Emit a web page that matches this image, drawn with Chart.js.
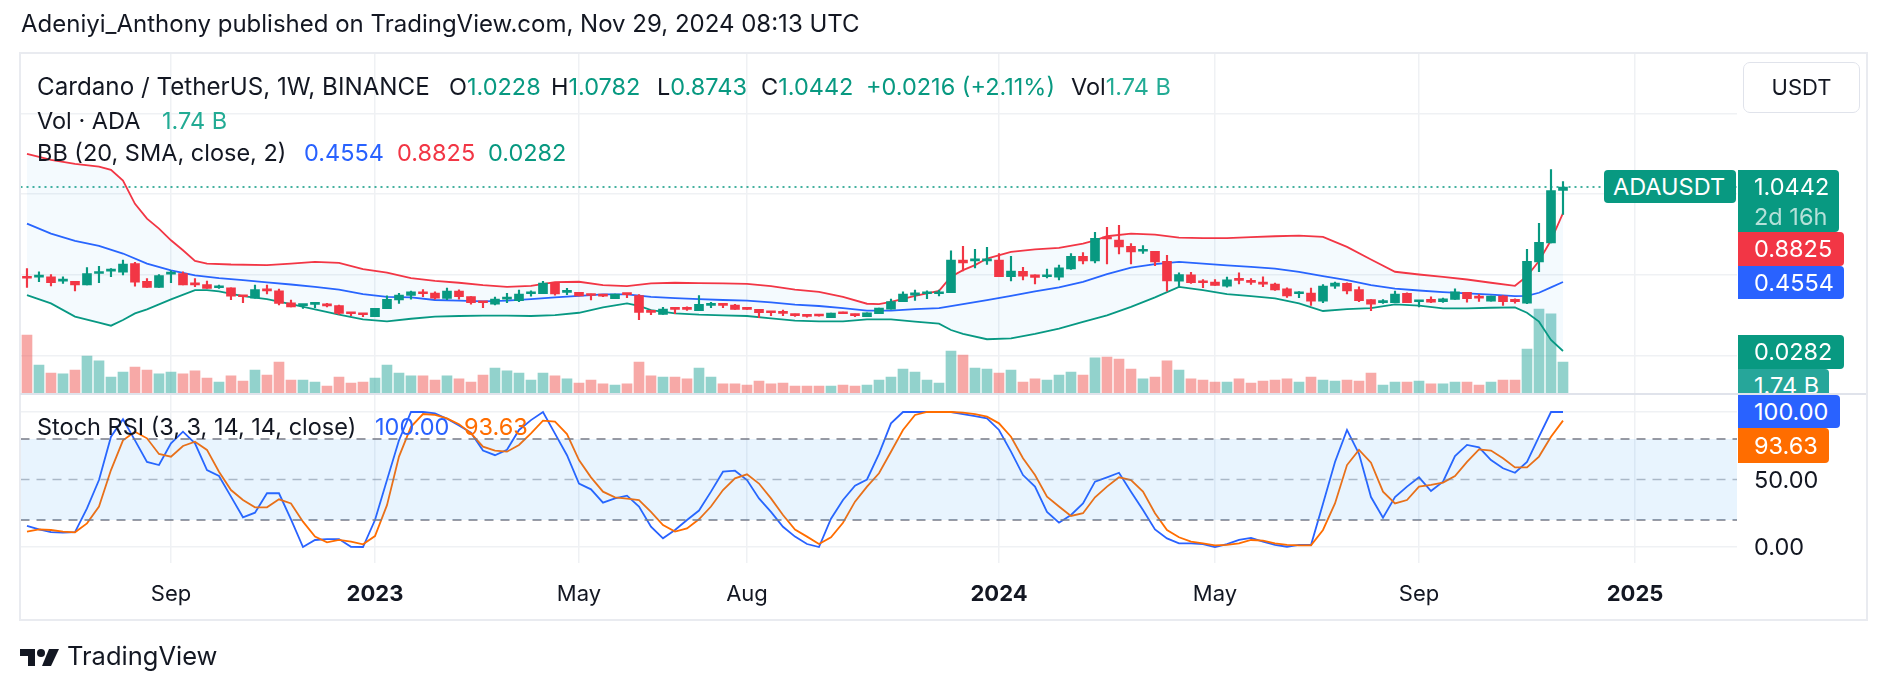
<!DOCTYPE html>
<html>
<head>
<meta charset="utf-8">
<script src="https://cdn.jsdelivr.net/npm/chart.js@4.4.1/dist/chart.umd.min.js"></script>
<style>
body { margin: 0; background: #fff; width: 1888px; height: 690px; overflow: hidden; position: relative;
       font-family: Inter, "Noto Sans", sans-serif; color: #131722; }
canvas { position: absolute; left: 0; top: 0; }
.abs { position: absolute; white-space: nowrap; line-height: 26px; }
.lg { font-size: 23.5px; }
.g { color: #089981; }
.v { color: #22ab94; }
.b { color: #2962ff; }
.r { color: #f23645; }
.o { color: #ff6d00; }
.tag { position: absolute; color: #fff; font-size: 23.5px; box-sizing: border-box; padding-left: 16px; white-space: nowrap; }
.axis { position: absolute; font-size: 23.5px; left: 1754px; line-height: 26px; }
</style>
</head>
<body>
<canvas id="main" width="1888" height="690"></canvas>
<canvas id="stoch" width="1888" height="690"></canvas>

<div class="abs" style="left:21px;top:11px;font-size:24px">Adeniyi_Anthony published on TradingView.com, Nov 29, 2024 08:13 UTC</div>

<!-- frame + pane separator -->
<div style="position:absolute;left:19px;top:52px;width:1849px;height:569px;border:2px solid #e9ebf0;box-sizing:border-box"></div>
<div style="position:absolute;left:20px;top:393px;width:1846px;height:2px;background:#e0e3eb"></div>

<!-- legend -->
<div class="abs" style="left:37px;top:74px;font-size:24.2px">Cardano / TetherUS, 1W, BINANCE</div>
<div class="abs lg" style="left:449px;top:74px">O<span class="g">1.0228</span></div>
<div class="abs lg" style="left:551px;top:74px">H<span class="g">1.0782</span></div>
<div class="abs lg" style="left:657px;top:74px">L<span class="g">0.8743</span></div>
<div class="abs lg" style="left:761px;top:74px">C<span class="g">1.0442</span></div>
<div class="abs lg g" style="left:866px;top:74px">+0.0216 (+2.11%)</div>
<div class="abs lg" style="left:1071px;top:74px">Vol<span class="v">1.74 B</span></div>
<div class="abs lg" style="left:37px;top:108px">Vol · ADA</div>
<div class="abs lg v" style="left:162px;top:108px">1.74 B</div>
<div class="abs lg" style="left:37px;top:140px">BB (20, SMA, close, 2)</div>
<div class="abs lg b" style="left:304px;top:140px">0.4554</div>
<div class="abs lg r" style="left:397px;top:140px">0.8825</div>
<div class="abs lg g" style="left:488px;top:140px">0.0282</div>
<div class="abs lg" style="left:37px;top:414px">Stoch RSI (3, 3, 14, 14, close)</div>
<div class="abs lg b" style="left:375px;top:414px">100.00</div>
<div class="abs lg o" style="left:464px;top:414px">93.63</div>

<div style="position:absolute;left:1743px;top:62px;width:117px;height:51px;border:1px solid #e0e3eb;border-radius:7px;box-sizing:border-box;font-size:22px;line-height:49px;text-align:center">USDT</div>

<!-- price scale labels -->
<div class="tag" style="left:1604px;top:170px;width:132px;height:33px;line-height:33px;background:#089981;border-radius:4px;padding-left:9px">ADAUSDT</div>
<div class="tag" style="left:1738px;top:170px;width:101px;height:62px;background:#089981;border-radius:0 4px 4px 0;line-height:30px;padding-top:2px">1.0442<br><span style="color:rgba(255,255,255,0.7)">2d 16h</span></div>
<div class="tag" style="left:1738px;top:232px;width:106px;height:34px;line-height:34px;background:#f23645;border-radius:0 4px 4px 0">0.8825</div>
<div class="tag" style="left:1738px;top:266px;width:106px;height:33px;line-height:33px;background:#2962ff;border-radius:0 4px 4px 0">0.4554</div>
<div class="tag" style="left:1738px;top:335px;width:106px;height:34px;line-height:34px;background:#089981;border-radius:0 4px 4px 0">0.0282</div>
<div style="position:absolute;left:1738px;top:369px;width:120px;height:24px;overflow:hidden">
  <div class="tag" style="left:0;top:0;width:91px;height:34px;line-height:34px;background:#26a69a;border-radius:0 4px 4px 0">1.74 B</div>
</div>
<div class="tag" style="left:1738px;top:395px;width:102px;height:33px;line-height:33px;background:#2962ff;border-radius:0 4px 4px 0">100.00</div>
<div class="tag" style="left:1738px;top:428px;width:91px;height:35px;line-height:35px;background:#ff6d00;border-radius:0 4px 4px 0">93.63</div>
<div class="axis" style="top:467px">50.00</div>
<div class="axis" style="top:534px">0.00</div>

<!-- footer logo -->
<svg style="position:absolute;left:20px;top:648px" width="42" height="19" viewBox="0 0 42 19">
  <path d="M0 1h15v17H8V8H0z" fill="#131722"/>
  <circle cx="21" cy="5" r="4" fill="#131722"/>
  <path d="M29 1h10l-8 17h-9z" fill="#131722"/>
</svg>
<div class="abs" style="left:67px;top:643px;font-size:25.5px">TradingView</div>

<script>
// ================= DATA =================
// weekly candles, index 0 = week of 13 Jun 2022, index 128 = week of 25 Nov 2024
const OPEN = [
  0.488, 0.486, 0.488, 0.461, 0.459, 0.438, 0.508, 0.523, 0.516, 0.570,
  0.459, 0.422, 0.504, 0.508, 0.444, 0.440, 0.420, 0.420, 0.372, 0.356,
  0.407, 0.401, 0.327, 0.309, 0.317, 0.321, 0.309, 0.267, 0.261, 0.241,
  0.290, 0.344, 0.372, 0.389, 0.387, 0.354, 0.399, 0.366, 0.335, 0.319,
  0.350, 0.340, 0.383, 0.383, 0.453, 0.391, 0.391, 0.381, 0.374, 0.352,
  0.385, 0.372, 0.278, 0.255, 0.292, 0.294, 0.278, 0.311, 0.319, 0.313,
  0.294, 0.286, 0.274, 0.270, 0.257, 0.251, 0.253, 0.235, 0.270, 0.257,
  0.241, 0.259, 0.288, 0.333, 0.374, 0.383, 0.383, 0.389, 0.591, 0.586,
  0.586, 0.591, 0.488, 0.521, 0.500, 0.488, 0.486, 0.537, 0.615, 0.586,
  0.733, 0.716, 0.677, 0.646, 0.646, 0.584, 0.461, 0.500, 0.459, 0.455,
  0.430, 0.479, 0.463, 0.453, 0.442, 0.414, 0.383, 0.387, 0.337, 0.430,
  0.447, 0.409, 0.346, 0.327, 0.327, 0.385, 0.333, 0.348, 0.333, 0.348,
  0.391, 0.364, 0.337, 0.368, 0.348, 0.325, 0.580, 0.698, 1.0228
];
const HIGH = [
  0.539, 0.519, 0.502, 0.488, 0.459, 0.545, 0.553, 0.539, 0.591, 0.578,
  0.477, 0.502, 0.525, 0.519, 0.477, 0.461, 0.436, 0.420, 0.372, 0.436,
  0.436, 0.412, 0.344, 0.315, 0.323, 0.323, 0.313, 0.267, 0.261, 0.292,
  0.370, 0.385, 0.399, 0.409, 0.395, 0.418, 0.407, 0.366, 0.335, 0.362,
  0.385, 0.405, 0.401, 0.459, 0.453, 0.416, 0.391, 0.381, 0.379, 0.381,
  0.385, 0.377, 0.282, 0.298, 0.292, 0.302, 0.372, 0.329, 0.319, 0.317,
  0.294, 0.286, 0.274, 0.282, 0.257, 0.251, 0.253, 0.263, 0.270, 0.257,
  0.265, 0.294, 0.350, 0.395, 0.405, 0.401, 0.405, 0.648, 0.677, 0.658,
  0.671, 0.632, 0.615, 0.547, 0.500, 0.535, 0.560, 0.632, 0.638, 0.763,
  0.794, 0.807, 0.693, 0.681, 0.646, 0.621, 0.512, 0.516, 0.471, 0.471,
  0.486, 0.512, 0.477, 0.488, 0.449, 0.420, 0.397, 0.418, 0.440, 0.455,
  0.451, 0.426, 0.346, 0.346, 0.399, 0.389, 0.342, 0.364, 0.356, 0.414,
  0.391, 0.379, 0.368, 0.372, 0.352, 0.658, 0.819, 1.152, 1.0782
];
const LOW = [
  0.422, 0.457, 0.432, 0.447, 0.401, 0.438, 0.451, 0.488, 0.500, 0.430,
  0.422, 0.422, 0.451, 0.438, 0.426, 0.416, 0.416, 0.346, 0.327, 0.356,
  0.381, 0.313, 0.302, 0.292, 0.296, 0.302, 0.255, 0.247, 0.241, 0.241,
  0.290, 0.323, 0.350, 0.364, 0.350, 0.346, 0.350, 0.319, 0.296, 0.313,
  0.327, 0.333, 0.368, 0.383, 0.374, 0.377, 0.370, 0.344, 0.364, 0.352,
  0.358, 0.222, 0.253, 0.255, 0.259, 0.280, 0.278, 0.296, 0.296, 0.286,
  0.286, 0.235, 0.247, 0.247, 0.243, 0.237, 0.244, 0.235, 0.259, 0.241,
  0.241, 0.259, 0.288, 0.333, 0.342, 0.352, 0.370, 0.389, 0.525, 0.543,
  0.564, 0.488, 0.463, 0.469, 0.444, 0.481, 0.469, 0.533, 0.568, 0.574,
  0.568, 0.630, 0.568, 0.632, 0.556, 0.399, 0.426, 0.447, 0.420, 0.434,
  0.424, 0.444, 0.440, 0.426, 0.403, 0.360, 0.358, 0.311, 0.327, 0.416,
  0.381, 0.333, 0.278, 0.323, 0.327, 0.327, 0.302, 0.327, 0.329, 0.348,
  0.331, 0.335, 0.337, 0.311, 0.325, 0.321, 0.519, 0.698, 0.8743
];
const CLOSE = [
  0.479, 0.490, 0.451, 0.465, 0.438, 0.508, 0.516, 0.533, 0.566, 0.455,
  0.422, 0.496, 0.508, 0.438, 0.438, 0.416, 0.426, 0.368, 0.364, 0.409,
  0.401, 0.323, 0.302, 0.315, 0.323, 0.307, 0.261, 0.259, 0.253, 0.292,
  0.348, 0.374, 0.395, 0.383, 0.356, 0.399, 0.364, 0.327, 0.327, 0.350,
  0.358, 0.381, 0.391, 0.449, 0.381, 0.399, 0.370, 0.372, 0.368, 0.381,
  0.377, 0.267, 0.267, 0.288, 0.286, 0.286, 0.317, 0.319, 0.311, 0.286,
  0.286, 0.265, 0.265, 0.261, 0.247, 0.243, 0.245, 0.263, 0.259, 0.247,
  0.265, 0.294, 0.335, 0.381, 0.389, 0.391, 0.391, 0.591, 0.574, 0.599,
  0.599, 0.488, 0.523, 0.492, 0.484, 0.500, 0.543, 0.615, 0.586, 0.726,
  0.722, 0.673, 0.642, 0.654, 0.580, 0.463, 0.502, 0.451, 0.451, 0.434,
  0.469, 0.465, 0.453, 0.442, 0.407, 0.370, 0.391, 0.337, 0.430, 0.449,
  0.401, 0.340, 0.319, 0.340, 0.381, 0.327, 0.342, 0.331, 0.352, 0.395,
  0.352, 0.356, 0.368, 0.333, 0.333, 0.584, 0.702, 1.0226, 1.0442
];
// volume in billions of ADA
const VOLUME = [
  3.26, 1.57, 1.12, 1.07, 1.29, 2.08, 1.80, 0.90, 1.18, 1.46,
  1.29, 1.07, 1.18, 1.07, 1.24, 0.84, 0.62, 0.96, 0.67, 1.29,
  1.01, 1.74, 0.73, 0.73, 0.62, 0.39, 0.90, 0.56, 0.62, 0.84,
  1.57, 1.12, 0.96, 0.96, 0.73, 0.96, 0.79, 0.62, 1.01, 1.40,
  1.24, 1.12, 0.73, 1.12, 0.96, 0.79, 0.56, 0.73, 0.51, 0.45,
  0.51, 1.74, 0.96, 0.90, 0.90, 0.79, 1.40, 0.90, 0.51, 0.51,
  0.45, 0.67, 0.51, 0.56, 0.39, 0.39, 0.39, 0.39, 0.45, 0.39,
  0.45, 0.73, 0.90, 1.35, 1.18, 0.73, 0.56, 2.36, 2.13, 1.40,
  1.35, 1.12, 1.29, 0.62, 0.79, 0.73, 1.01, 1.18, 1.01, 1.97,
  2.02, 1.91, 1.35, 0.79, 0.90, 1.80, 1.29, 0.79, 0.73, 0.62,
  0.62, 0.79, 0.56, 0.67, 0.73, 0.79, 0.62, 0.90, 0.73, 0.67,
  0.73, 0.67, 1.12, 0.45, 0.62, 0.62, 0.67, 0.51, 0.51, 0.62,
  0.62, 0.45, 0.62, 0.73, 0.73, 2.47, 4.72, 4.44, 1.74
];

// Bollinger bands: [week index, value]
const BB_UPPER = [
  [0,1.249],[2,1.212],[4,1.187],[6,1.171],[7,1.150],[8,1.084],[9,0.940],[10,0.848],[11,0.786],
  [12,0.714],[13,0.652],[14,0.586],[15,0.570],[17,0.564],[20,0.560],[22,0.570],[24,0.580],
  [26,0.574],[28,0.535],[30,0.514],[32,0.480],[34,0.463],[36,0.451],[38,0.436],[40,0.426],
  [42,0.432],[44,0.455],[46,0.457],[48,0.436],[50,0.430],[52,0.447],[54,0.451],[56,0.449],
  [58,0.447],[60,0.444],[62,0.430],[64,0.409],[66,0.395],[68,0.364],[70,0.321],[71,0.319],
  [72,0.333],[74,0.370],[76,0.401],[77,0.488],[78,0.529],[79,0.560],[80,0.601],[82,0.642],
  [84,0.658],[86,0.667],[88,0.693],[89,0.714],[90,0.739],[92,0.755],[94,0.749],[96,0.730],
  [98,0.728],[100,0.728],[102,0.733],[104,0.739],[106,0.743],[108,0.735],[110,0.673],
  [112,0.595],[114,0.519],[116,0.502],[118,0.488],[120,0.471],[122,0.451],[124,0.432],
  [125,0.492],[126,0.586],[127,0.714],[128,0.8825]
];
const BB_BASIS = [
  [0,0.817],[2,0.755],[4,0.710],[6,0.679],[8,0.632],[10,0.570],[12,0.527],[14,0.496],
  [16,0.479],[18,0.467],[20,0.453],[22,0.440],[24,0.426],[26,0.409],[28,0.381],[30,0.364],
  [32,0.360],[34,0.344],[36,0.340],[38,0.335],[40,0.340],[42,0.350],[44,0.360],[46,0.370],
  [48,0.379],[50,0.379],[52,0.364],[54,0.356],[56,0.350],[58,0.344],[60,0.340],[62,0.329],
  [64,0.315],[66,0.307],[68,0.294],[70,0.278],[72,0.278],[74,0.288],[76,0.294],[78,0.319],
  [80,0.344],[82,0.370],[84,0.397],[86,0.422],[88,0.457],[90,0.504],[92,0.545],[94,0.566],
  [96,0.580],[98,0.570],[100,0.558],[102,0.549],[104,0.539],[106,0.519],[108,0.492],
  [110,0.467],[112,0.436],[114,0.414],[116,0.403],[118,0.393],[120,0.385],[122,0.377],
  [124,0.368],[125,0.370],[126,0.389],[127,0.422],[128,0.4554]
];
const BB_LOWER = [
  [0,0.374],[2,0.323],[4,0.241],[6,0.204],[7,0.185],[8,0.220],[9,0.261],[10,0.286],
  [12,0.348],[14,0.405],[15,0.405],[16,0.397],[18,0.368],[20,0.350],[22,0.319],[24,0.286],
  [26,0.253],[28,0.224],[30,0.212],[32,0.228],[34,0.241],[36,0.245],[38,0.247],[40,0.247],
  [42,0.245],[44,0.251],[46,0.265],[48,0.298],[50,0.323],[51,0.307],[52,0.282],[54,0.261],
  [56,0.253],[58,0.249],[60,0.245],[62,0.230],[64,0.216],[66,0.212],[68,0.212],[70,0.224],
  [72,0.224],[74,0.210],[76,0.198],[77,0.158],[78,0.134],[80,0.101],[82,0.107],[84,0.134],
  [86,0.167],[88,0.208],[90,0.249],[92,0.302],[94,0.360],[96,0.425],[98,0.405],[100,0.381],
  [102,0.368],[104,0.354],[106,0.323],[108,0.276],[110,0.288],[112,0.294],[114,0.317],
  [116,0.309],[118,0.292],[120,0.292],[122,0.296],[124,0.298],[125,0.265],[126,0.210],
  [127,0.097],[128,0.0282]
];

const STOCH_K = [
  15.6, 13, 11, 10.6, 11, 28.6, 49.6, 81.7, 94.6, 79,
  63, 60.7, 76.8, 85.4, 76.8, 57, 52.6, 37.3, 22, 25.4,
  39.8, 39.8, 20.5, 0, 5.2, 5.9, 5.9, 0.2, 0, 20,
  49.6, 79, 100, 100, 99, 95, 90, 84.7, 71.4, 68,
  72, 86.7, 94, 100, 84, 68, 47, 42.7, 32.8, 36,
  38, 30, 15, 6.4, 12.6, 20, 27, 41, 55.8, 56.5,
  49.6, 36, 26, 15, 7.7, 2.2, 0, 21, 34.8, 45.4,
  50, 69, 91.6, 100, 100, 100, 100, 100, 98.5, 97,
  95.3, 86.7, 70.6, 53.3, 44.7, 26, 18, 23.7, 32.3, 48.4,
  51.6, 55, 41, 27.4, 13, 6.4, 2.7, 2.7, 2.2, 0,
  2.2, 5.2, 6.7, 4, 1.5, 0.2, 1.5, 1.5, 32, 63,
  86.7, 69, 37, 21.7, 37, 44.7, 51.6, 41.5, 48.4, 67.4,
  75.6, 73.8, 64.4, 58.3, 55, 63, 81.7, 100, 100
];
const STOCH_D = [
  11.4, 13, 12.6, 11.4, 10.9, 17.5, 30, 57, 79, 85.4,
  80.5, 68.9, 66.9, 74.8, 78, 71.9, 55.8, 42.2, 34.8, 29.4,
  29.4, 35.3, 32.3, 18.8, 7.7, 3.5, 5.2, 4, 2, 8.1,
  31, 67, 89, 98.5, 97.8, 95.3, 91, 84.2, 74.3, 71.4,
  70.6, 75.6, 84.2, 93.6, 92.8, 83.7, 64.4, 51.6, 41, 36.8,
  35.8, 34.8, 26, 16.3, 11.4, 13.8, 20.5, 30, 42.2, 50.9,
  53.8, 47, 36, 23.7, 13, 7.7, 2.2, 7.2, 18, 33.6,
  44.7, 54.6, 70.6, 86.7, 97.8, 100, 100, 100, 99.5, 98.5,
  96.5, 91.6, 81.7, 65.7, 53.3, 37.3, 30, 23, 25, 36.8,
  44.7, 51.6, 49.6, 41, 25, 12.6, 7.2, 4, 2.7, 1.2,
  1.5, 2.7, 5.2, 4.7, 2.7, 1.5, 1.2, 1.2, 12.6, 32.3,
  60.7, 71.9, 62.5, 41, 32.3, 34.8, 44.7, 46, 47.7, 52.6,
  63, 72.3, 71.4, 65.7, 59, 59, 67, 81.7, 93.63
];
const STOCH_LEVELS = [80, 50, 20];

const TIME_TICKS = [12, 29, 46, 60, 81, 99, 116, 134];
const TIME_LABELS = ["Sep", "2023", "May", "Aug", "2024", "May", "Sep", "2025"];
const PRICE_GRID = [0, 0.5, 1, 1.5];
const STOCH_GRID = [0, 100];

// ================= SETUP =================
const X_MIN = -0.54, X_MAX = 142.5;
const GREEN = "#089981", RED = "#F23645";
const GRID = "#eff1f4";
const LAST = CLOSE[CLOSE.length - 1];

Chart.defaults.font.family = "Inter, 'Noto Sans', sans-serif";
Chart.defaults.animation = false;

const idx = CLOSE.map((_, i) => i);
const isUp = i => CLOSE[i] >= OPEN[i];
const candleColors = idx.map(i => isUp(i) ? GREEN : RED);
const pairs = arr => arr.map(([x, y]) => ({ x: x, y: y }));

function xScale(extra) {
    return Object.assign({
        type: "linear",
        min: X_MIN,
        max: X_MAX,
        offset: false,
        grid: { offset: false, color: GRID, lineWidth: 1.5, drawTicks: false },
        border: { display: false },
        ticks: { display: false },
        afterBuildTicks: s => { s.ticks = TIME_TICKS.map(v => ({ value: v })); },
        afterFit: s => { s.height = 0; }
    }, extra || {});
}

// ================= PRICE PANE =================
new Chart(document.getElementById("main"), {
    type: "bar",
    data: {
        datasets: [
            {
                type: "line", data: pairs(BB_UPPER), borderColor: RED, borderWidth: 1.8,
                pointRadius: 0, fill: { target: 2 }, backgroundColor: "rgba(33,150,243,0.05)", order: 3
            },
            {
                type: "line", data: pairs(BB_BASIS), borderColor: "#2962FF", borderWidth: 1.8,
                pointRadius: 0, fill: false, order: 3
            },
            {
                type: "line", data: pairs(BB_LOWER), borderColor: GREEN, borderWidth: 1.8,
                pointRadius: 0, fill: false, order: 3
            },
            {
                type: "line", data: [{ x: X_MIN, y: LAST }, { x: X_MAX, y: LAST }],
                borderColor: GREEN, borderWidth: 1.5, borderDash: [2, 4], pointRadius: 0, fill: false, order: 4
            },
            {
                yAxisID: "yv", data: idx.map(i => ({ x: i, y: VOLUME[i] })),
                backgroundColor: idx.map(i => isUp(i) ? "rgba(38,166,154,0.5)" : "rgba(239,83,80,0.5)"),
                barThickness: 10, grouped: false, order: 5
            },
            {
                data: idx.map(i => ({ x: i, y: [LOW[i], HIGH[i]] })),
                backgroundColor: candleColors, barThickness: 1.5, grouped: false, order: 2
            },
            {
                data: idx.map(i => ({ x: i, y: [OPEN[i], CLOSE[i]] })),
                backgroundColor: candleColors, barThickness: 9, minBarLength: 2, grouped: false, order: 1
            }
        ]
    },
    options: {
        responsive: false,
        layout: { padding: { left: 20.5, right: 151, top: 54, bottom: 297 } },
        plugins: { legend: { display: false }, tooltip: { enabled: false } },
        scales: {
            x: xScale(),
            y: {
                type: "linear", position: "right", min: -0.232, max: 1.868,
                grid: { color: GRID, lineWidth: 1.5, drawTicks: false },
                border: { display: false },
                ticks: { display: false },
                afterBuildTicks: s => { s.ticks = PRICE_GRID.map(v => ({ value: v })); },
                afterFit: s => { s.width = 0; }
            },
            yv: { display: false, min: 0, max: 19.04 }
        }
    }
});

// ================= STOCH RSI PANE =================
new Chart(document.getElementById("stoch"), {
    type: "line",
    data: {
        datasets: [
            {
                data: [{ x: X_MIN, y: STOCH_LEVELS[0] }, { x: X_MAX, y: STOCH_LEVELS[0] }],
                borderColor: "#787B86", borderWidth: 1.5, borderDash: [9, 7], pointRadius: 0,
                fill: { target: 2 }, backgroundColor: "rgba(33,150,243,0.1)"
            },
            {
                data: [{ x: X_MIN, y: STOCH_LEVELS[1] }, { x: X_MAX, y: STOCH_LEVELS[1] }],
                borderColor: "rgba(120,123,134,0.5)", borderWidth: 1.5, borderDash: [9, 7], pointRadius: 0, fill: false
            },
            {
                data: [{ x: X_MIN, y: STOCH_LEVELS[2] }, { x: X_MAX, y: STOCH_LEVELS[2] }],
                borderColor: "#787B86", borderWidth: 1.5, borderDash: [9, 7], pointRadius: 0, fill: false
            },
            {
                data: idx.map(i => ({ x: i, y: STOCH_D[i] })),
                borderColor: "#FF6D00", borderWidth: 1.8, pointRadius: 0, fill: false
            },
            {
                data: idx.map(i => ({ x: i, y: STOCH_K[i] })),
                borderColor: "#2962FF", borderWidth: 1.8, pointRadius: 0, fill: false
            }
        ]
    },
    options: {
        responsive: false,
        layout: { padding: { left: 20.5, right: 151, top: 395, bottom: 71 } },
        plugins: { legend: { display: false }, tooltip: { enabled: false } },
        scales: {
            x: xScale({
                ticks: {
                    display: true, autoSkip: false, maxRotation: 0, padding: 18, color: "#131722",
                    callback: (v, i) => TIME_LABELS[i],
                    font: c => ({ size: 22, weight: /^\d{4}$/.test(TIME_LABELS[c.index]) ? "bold" : "normal" })
                },
                // time axis strip: 563 -> 619
                afterFit: s => { s.height = 56; }
            }),
            y: {
                type: "linear", position: "right", min: -11.85, max: 112.59,
                grid: { color: GRID, lineWidth: 1.5, drawTicks: false },
                border: { display: false },
                ticks: { display: false },
                afterBuildTicks: s => { s.ticks = STOCH_GRID.map(v => ({ value: v })); },
                afterFit: s => { s.width = 0; }
            }
        }
    }
});
</script>
</body>
</html>
